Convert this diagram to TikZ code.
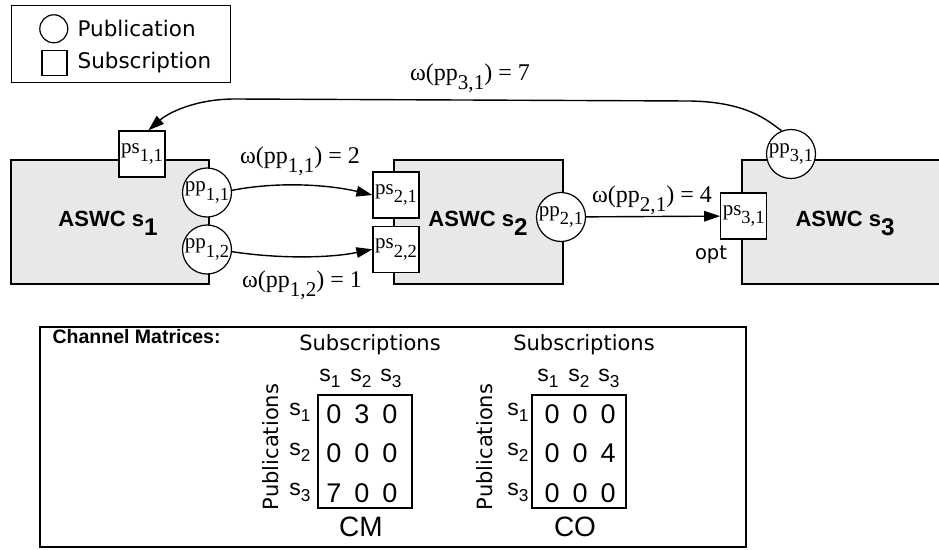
\documentclass[tikz,border=0pt]{standalone}
\usepackage{fontspec}
\usepackage{graphicx}
\setmainfont{Liberation Serif}
\newfontfamily\uisans{DejaVu Sans}
\newfontfamily\helv{Liberation Sans}
\usetikzlibrary{arrows.meta}

\definecolor{aswcgray}{RGB}{232,232,232}

% lowered subscripts used in the port, weight, component and matrix labels
\newcommand\lsub[1]{\raisebox{-0.4em}{\scalebox{0.88}{#1}}}
\newcommand\msub[1]{\raisebox{-0.3em}{\scalebox{0.75}{#1}}}
\newcommand\csub[1]{\raisebox{-0.41em}{\scalebox{1.1}{#1}}}

% one channel matrix: name, centre x, caption, content shift, row/column/value list
\newcommand\chanmatrix[5]{%
  \node[mbox] (#1box) at (#2,451.5) {};
  \node[uitext, anchor=base] (#1subs) at (#2+5,350) {Subscriptions};
  \node[uitext, rotate=90] (#1pubs) at (#2-94,447) {Publications};
  \foreach \c/\hx in {1/-31,2/0,3/30}
    \node[mhead, anchor=base] (#1h\c) at (#2+#4+\hx,381) {s\msub{\c}};
  \foreach \r in {1,2,3}
    \node[mhead, anchor=base] (#1r\r) at (#2+#4-61,375+40*\r) {s\msub{\r}};
  \foreach \r/\c/\v in {#5}
    \node[mdigit, anchor=base] (#1d\r\c) at (#2+#4-55+28*\c,383.5+39.5*\r) {\v};
  \node[mcap, anchor=base] (#1cap) at (#2-4,536) {#3};
}

\begin{document}
\begin{tikzpicture}[x=1pt,y=-1pt,
  line width=1.2pt,
  comp/.style={draw, fill=aswcgray, inner sep=0pt},
  complabel/.style={font=\helv\bfseries\fontsize{22}{26}\selectfont, inner sep=0pt},
  pubport/.style={circle, draw, fill=white, minimum size=49pt, inner sep=0pt,
    font=\fontsize{21}{22}\selectfont},
  subport/.style={rectangle, draw, fill=white, minimum size=46pt, inner sep=0pt,
    font=\fontsize{21}{22}\selectfont},
  weight/.style={font=\fontsize{24}{26}\selectfont, inner sep=0pt},
  conn/.style={-{Triangle[length=16pt,width=10.5pt]}, line width=1.4pt},
  uitext/.style={font=\uisans\fontsize{21}{24}\selectfont, inner sep=0pt},
  mbox/.style={draw, minimum width=94pt, minimum height=113pt, inner sep=0pt},
  mhead/.style={font=\helv\fontsize{23}{26}\selectfont, inner sep=0pt},
  mdigit/.style={font=\helv\fontsize{27}{30}\selectfont, inner sep=0pt},
  mcap/.style={font=\helv\fontsize{28}{30}\selectfont, inner sep=0pt}]

\useasboundingbox (0,0) rectangle (939,549);

% legend
\node[draw, minimum width=219pt, minimum height=77pt, inner sep=0pt] (legend) at (121.2,44.2) {};
\node[circle, draw, minimum size=28pt, inner sep=0pt] (legpub) at (53.8,28.8) {};
\node[rectangle, draw, minimum size=25pt, inner sep=0pt] (legsub) at (54.5,63) {};
\node[uitext, font=\uisans\fontsize{21.5}{24}\selectfont, anchor=base west] (legpubtext) at (77,36.7) {Publication};
\node[uitext, font=\uisans\fontsize{21.5}{24}\selectfont, anchor=base west] (legsubtext) at (77,68.6) {Subscription};

% software components
\node[comp, minimum width=198pt, minimum height=124pt] (c1) at (110,222) {};
\node[comp, minimum width=169pt, minimum height=124pt] (c2) at (478.5,222) {};
\node[comp, minimum width=210pt, minimum height=124pt] (c3) at (847,222) {};
\node[complabel, anchor=base] (c1label) at (108,226.7) {ASWC s\csub{1}};
\node[complabel, anchor=base] (c2label) at (478,226.7) {ASWC s\csub{2}};
\node[complabel, anchor=base] (c3label) at (845,226.7) {ASWC s\csub{3}};

% ports
\node[subport] (ps11) at (142,154) {ps\lsub{1,1}};
\node[pubport] (pp11) at (207,192.5) {pp\lsub{1,1}};
\node[pubport] (pp12) at (207,249.5) {pp\lsub{1,2}};
\node[subport] (ps21) at (396,195) {ps\lsub{2,1}};
\node[subport] (ps22) at (396,249.3) {ps\lsub{2,2}};
\node[pubport] (pp21) at (561,217) {pp\lsub{2,1}};
\node[subport] (ps31) at (743.7,216) {ps\lsub{3,1}};
\node[pubport] (pp31) at (791,154) {pp\lsub{3,1}};
\node[uitext, font=\uisans\fontsize{19.5}{22}\selectfont] (opt) at (711,255) {opt};

% channels
\draw[conn] (pp11.5) .. controls (280,181) and (330,185) .. (ps21.west);
\draw[conn] (pp12.-5) .. controls (280,259) and (330,258) .. (ps22.west);
\draw[conn] (pp21) -- (ps31);
\draw[conn] (pp31.112) .. controls (768,121) and (748,102) .. (690,101)
  -- (235,99) .. controls (195,99) and (168,113) .. (ps11.75);

% channel weights
\node[weight, anchor=base] (w11) at (300,163) {ω(pp\lsub{1,1}) = 2};
\node[weight, anchor=base] (w12) at (302,287) {ω(pp\lsub{1,2}) = 1};
\node[weight, anchor=base] (w21) at (652,202) {ω(pp\lsub{2,1}) = 4};
\node[weight, anchor=base] (w31) at (470,80) {ω(pp\lsub{3,1}) = 7};

% channel matrices
\node[draw, minimum width=706pt, minimum height=220pt, inner sep=0pt] (matrices) at (393,437) {};
\node[font=\helv\bfseries\fontsize{19.5}{22}\selectfont, anchor=base west, inner sep=0pt] (mtitle) at (52,343.5) {Channel Matrices:};
\chanmatrix{cm}{365}{CM}{-4}{1/1/0,1/2/3,1/3/0,2/1/0,2/2/0,2/3/0,3/1/7,3/2/0,3/3/0}
\chanmatrix{co}{579}{CO}{0}{1/1/0,1/2/0,1/3/0,2/1/0,2/2/0,2/3/4,3/1/0,3/2/0,3/3/0}

\end{tikzpicture}
\end{document}
